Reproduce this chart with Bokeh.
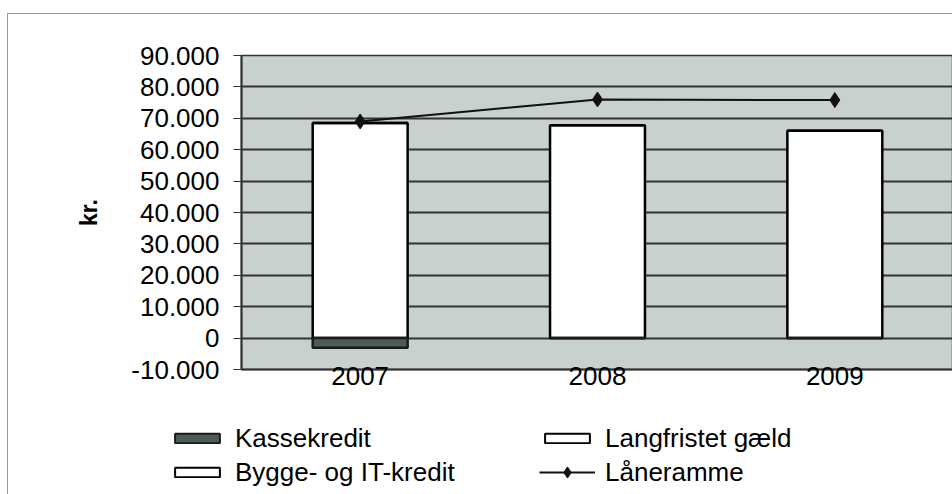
from bokeh.plotting import figure
from bokeh.layouts import column
from bokeh.models import ColumnDataSource, Legend, LegendItem, CustomJSTickFormatter, SingleIntervalTicker
from bokeh.embed import file_html
from bokeh.resources import INLINE

# ---- data ----
years = ["2007", "2008", "2009"]
kassekredit = [-3100, 0, 0]
langfristet_gaeld = [68500, 67800, 66000]
bygge_it_kredit = [0, 0, 0]
laaneramme = [69000, 76000, 75800]
series_names = ["Kassekredit", "Langfristet gæld", "Bygge- og IT-kredit", "Låneramme"]
y_axis_label = "kr."

FONT = "Liberation Sans"
KASSE_FILL = "#4d5c57"


def make_source():
    return ColumnDataSource(dict(
        year=years,
        kasse=kassekredit,
        lang=langfristet_gaeld,
        bygge_bottom=langfristet_gaeld,
        bygge_top=[l + b for l, b in zip(langfristet_gaeld, bygge_it_kredit)],
        ramme=laaneramme,
    ))


def add_series(fig, src, lw=2.5, msize=15):
    r_lang = fig.vbar(x="year", top="lang", bottom=0, width=0.4, source=src,
                      fill_color="white", line_color="black", line_width=lw)
    r_bygge = fig.vbar(x="year", top="bygge_top", bottom="bygge_bottom", width=0.4, source=src,
                       fill_color="white", line_color="black", line_width=lw)
    r_kasse = fig.vbar(x="year", top="kasse", bottom=0, width=0.4, source=src,
                       fill_color=KASSE_FILL, line_color="#1a1a1a", line_width=lw)
    r_line = fig.line(x="year", y="ramme", source=src, line_color="#111111", line_width=2)
    r_pts = fig.scatter(x="year", y="ramme", source=src, marker="diamond", size=msize,
                        fill_color="#111111", line_color="#111111")
    return r_kasse, r_lang, r_bygge, r_line, r_pts


p = figure(x_range=years, y_range=(-10000, 90000), width=945, height=400,
           output_backend="svg", toolbar_location=None,
           min_border_left=233, min_border_right=0, min_border_top=41, min_border_bottom=45)
p.frame_align = False
p.styles = {"border-left": "1px solid #999", "border-top": "1px solid #999",
            "margin-left": "7px", "margin-top": "13px"}

p.background_fill_color = "#c9d1ce"
p.border_fill_color = "white"
p.outline_line_color = "#333333"
p.outline_line_width = 1.5

p.xgrid.grid_line_color = None
p.ygrid.grid_line_color = "#333333"
p.ygrid.grid_line_width = 2

# y axis
p.yaxis.ticker = SingleIntervalTicker(interval=10000)
p.yaxis.formatter = CustomJSTickFormatter(code="""
const s = Math.abs(Math.round(tick)).toFixed(0).replace(/\\B(?=(\\d{3})+(?!\\d))/g, ".");
return (tick < 0 ? "-" : "") + s;
""")
p.yaxis.axis_label = y_axis_label
p.yaxis.axis_label_text_font = FONT
p.yaxis.axis_label_text_font_style = "bold"
p.yaxis.axis_label_text_font_size = "23px"
p.yaxis.axis_label_text_color = "black"
p.yaxis.axis_label_standoff = 26
p.yaxis.major_label_text_font = FONT
p.yaxis.major_label_text_font_size = "26px"
p.yaxis.major_label_text_color = "black"
p.yaxis.major_tick_out = 8
p.yaxis.major_tick_in = 0
p.yaxis.minor_tick_line_color = None
p.yaxis.major_label_standoff = 14
p.yaxis.axis_line_color = "#333333"
p.yaxis.axis_line_width = 2
p.yaxis.major_tick_line_color = "#333333"

# x axis
p.xaxis.major_label_text_font = FONT
p.xaxis.major_label_text_font_size = "26px"
p.xaxis.major_label_text_color = "black"
p.xaxis.major_tick_line_color = None
p.xaxis.axis_line_color = "#333333"
p.xaxis.axis_line_width = 2
p.xaxis.major_label_standoff = -9

add_series(p, make_source())

# ---- legend strip (separate figure so the legend is not clipped by the plot frame) ----
lf = figure(width=945, height=81, x_range=years, y_range=(-10000, 90000),
            output_backend="svg", toolbar_location=None,
            min_border_left=0, min_border_right=0, min_border_top=0, min_border_bottom=0)
lf.frame_align = False
lf.styles = {"border-left": "1px solid #999", "margin-left": "7px"}
lf.axis.visible = False
lf.grid.grid_line_color = None
lf.outline_line_color = None
lf.background_fill_color = "white"
lf.border_fill_color = "white"

g_kasse, g_lang, g_bygge, g_line, g_pts = add_series(lf, make_source(), lw=2, msize=13)
for r in (g_kasse, g_lang, g_bygge, g_line, g_pts):
    r.visible = False


def mk_legend(items, loc, glyph_h=12):
    lg = Legend(items=items, location=loc, orientation="vertical")
    lg.label_text_font = FONT
    lg.label_text_font_size = "26px"
    lg.label_text_color = "black"
    lg.label_height = 34
    lg.glyph_height = glyph_h
    lg.glyph_width = 56
    lg.label_standoff = 10
    lg.spacing = 0
    lg.padding = 0
    lg.margin = 0
    lg.border_line_color = None
    lg.background_fill_alpha = 0
    lg.inactive_fill_alpha = 0
    return lg


lf.add_layout(mk_legend([LegendItem(label=series_names[0], renderers=[g_kasse]),
                         LegendItem(label=series_names[2], renderers=[g_bygge])], (161, 5)), "center")
lf.add_layout(mk_legend([LegendItem(label=series_names[1], renderers=[g_lang])], (531, 39)), "center")
lf.add_layout(mk_legend([LegendItem(label=series_names[3], renderers=[g_line, g_pts])], (531, 5),
                        glyph_h=28), "center")

layout = column(p, lf, spacing=0)
open("out.html", "w").write(file_html(layout, INLINE))
